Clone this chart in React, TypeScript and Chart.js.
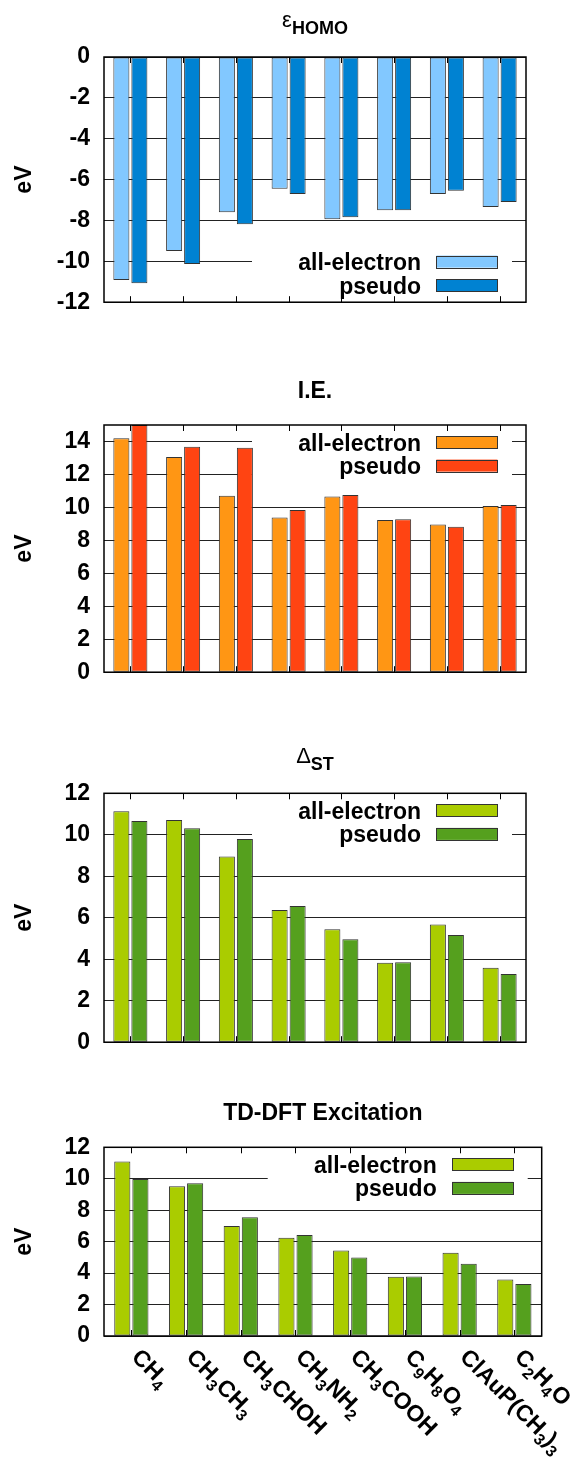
import React, { useEffect, useRef } from 'react';
import { Chart, registerables } from 'chart.js';

Chart.register(...registerables);

const FONT = '"Liberation Sans", Arial, Helvetica, sans-serif';

// Category labels ("_x" marks a one-character subscript)
const categories = ['CH_4', 'CH_3CH_3', 'CH_3CHOH', 'CH_3NH_2', 'CH_3COOH', 'C_9H_8O_4', 'ClAuP(CH_3)_3', 'C_2H_4O'];
const seriesNames = ['all-electron', 'pseudo'];

// Panel 1: HOMO eigenvalue (eV)
const homoAllElectron = [-10.91, -9.49, -7.6, -6.45, -7.94, -7.5, -6.7, -7.34];
const homoPseudo = [-11.07, -10.13, -8.19, -6.7, -7.84, -7.5, -6.54, -7.1];
// Panel 2: ionisation energy (eV)
const ieAllElectron = [14.2, 13.06, 10.7, 9.38, 10.66, 9.24, 8.96, 10.08];
const iePseudo = [15.0, 13.68, 13.62, 9.84, 10.76, 9.28, 8.82, 10.14];
// Panel 3: singlet-triplet gap (eV)
const stAllElectron = [11.14, 10.71, 8.95, 6.37, 5.44, 3.83, 5.68, 3.59];
const stPseudo = [10.66, 10.32, 9.8, 6.57, 4.96, 3.86, 5.17, 3.29];
// Panel 4: TD-DFT excitation (eV)
const tdAllElectron = [11.09, 9.52, 7.0, 6.25, 5.43, 3.77, 5.3, 3.6];
const tdPseudo = [9.99, 9.71, 7.55, 6.42, 5.0, 3.79, 4.6, 3.31];

// Axis ranges / tick steps
const homoAxis = { min: -12, max: 0, step: 2 };
const ieAxis = { min: 0, max: 15, step: 2 };
const stAxis = { min: 0, max: 12, step: 2 };
const tdAxis = { min: 0, max: 12, step: 2 };

// Titles: [main, subscript]
const homoTitle = ['ε', 'HOMO'];
const ieTitle = ['I.E.', ''];
const stTitle = ['Δ', 'ST'];
const tdTitle = ['TD-DFT Excitation', ''];

const blueColors = ['#82c8ff', '#0082d2'];
const orangeColors = ['#ff9614', '#ff4412'];
const greenColors = ['#aacc00', '#55a01e'];

function parseSub(s: string) {
  const segs: { t: string; sub: boolean }[] = [];
  let buf = '';
  let i = 0;
  while (i < s.length) {
    if (s[i] === '_') {
      if (buf) segs.push({ t: buf, sub: false });
      buf = '';
      segs.push({ t: s[i + 1], sub: true });
      i += 2;
    } else {
      buf += s[i];
      i++;
    }
  }
  if (buf) segs.push({ t: buf, sub: false });
  return segs;
}

const decoPlugin = {
  id: 'deco',
  beforeDatasetsDraw(chart: any, _args: any, opts: any) {
    const { ctx, chartArea: ca } = chart;
    const R = ca.right;
    const rowGap = 23.6;
    const row0 = opts.legendPos === 'top' ? ca.top + 17 : ca.bottom - 17 - rowGap;
    ctx.save();
    ctx.fillStyle = '#ffffff';
    ctx.fillRect(R - 274, row0 - 12.5, 260, rowGap + 25);
    chart.data.datasets.forEach((ds: any, i: number) => {
      const y = row0 + i * rowGap;
      ctx.font = `bold 23px ${FONT}`;
      ctx.fillStyle = '#000';
      ctx.textAlign = 'right';
      ctx.textBaseline = 'alphabetic';
      ctx.fillText(ds.label, R - 105, y + 8.5);
      ctx.fillStyle = ds.backgroundColor;
      ctx.fillRect(R - 89.6, y - 6, 61, 12);
      ctx.strokeStyle = '#333';
      ctx.lineWidth = 1;
      ctx.strokeRect(Math.round(R - 89.6) + 0.5, Math.round(y - 6) + 0.5, 61, 12);
    });
    ctx.restore();
  },
  afterDatasetsDraw(chart: any, _args: any, opts: any) {
    const { ctx, chartArea: ca } = chart;
    const xs = chart.scales.x;
    ctx.save();
    ctx.strokeStyle = '#000';
    ctx.lineWidth = 1;
    ctx.beginPath();
    for (let i = 0; i < chart.data.labels.length; i++) {
      const px = Math.round(xs.getPixelForValue(i)) + 0.5;
      ctx.moveTo(px, ca.bottom);
      ctx.lineTo(px, ca.bottom - 6);
      ctx.moveTo(px, ca.top);
      ctx.lineTo(px, ca.top + 6);
    }
    ctx.stroke();
    ctx.lineWidth = 1.5;
    ctx.strokeRect(ca.left, ca.top, ca.right - ca.left, ca.bottom - ca.top);

    // title
    const [main, sub] = opts.title;
    const cx = (ca.left + ca.right) / 2;
    ctx.fillStyle = '#000';
    ctx.textAlign = 'left';
    ctx.textBaseline = 'alphabetic';
    if (sub) {
      const mainFont = `normal 22px ${FONT}`;
      const subFont = `bold 18px ${FONT}`;
      ctx.font = mainFont;
      const w1 = ctx.measureText(main).width;
      ctx.font = subFont;
      const w2 = ctx.measureText(sub).width;
      const x0 = cx - (w1 + w2) / 2;
      ctx.font = mainFont;
      ctx.fillText(main, x0, ca.top - 30);
      ctx.font = subFont;
      ctx.fillText(sub, x0 + w1, ca.top - 23);
    } else {
      ctx.font = `bold 23px ${FONT}`;
      ctx.textAlign = 'center';
      ctx.fillText(main, cx, ca.top - 27);
    }

    // rotated category labels
    if (opts.showLabels) {
      chart.data.labels.forEach((lab: string, i: number) => {
        const px = xs.getPixelForValue(i) + 5;
        const py = ca.bottom + 16.5;
        ctx.save();
        ctx.translate(px, py);
        ctx.rotate(Math.PI / 4);
        ctx.textAlign = 'left';
        let x = 0;
        parseSub(lab).forEach((seg) => {
          ctx.font = seg.sub ? `bold 16px ${FONT}` : `bold 23px ${FONT}`;
          ctx.fillText(seg.t, x, seg.sub ? 14 : 8.3);
          x += ctx.measureText(seg.t).width;
        });
        ctx.restore();
      });
    }
    ctx.restore();
  },
};

type PanelProps = {
  top: number;
  height: number;
  plotTop: number;
  plotRight: number;
  plotBottom: number;
  axis: { min: number; max: number; step: number };
  a: number[];
  b: number[];
  colors: string[];
  title: string[];
  legendPos: 'top' | 'bottom';
  showLabels: boolean;
  catPct: number;
};

function Panel(p: PanelProps) {
  const ref = useRef<HTMLCanvasElement>(null);
  useEffect(() => {
    const canvas = ref.current!;
    const chart = new Chart(canvas, {
      type: 'bar',
      data: {
        labels: categories,
        datasets: [
          { label: seriesNames[0], data: p.a, backgroundColor: p.colors[0], borderColor: '#333', borderWidth: 1, borderSkipped: false, barPercentage: 0.89, categoryPercentage: p.catPct },
          { label: seriesNames[1], data: p.b, backgroundColor: p.colors[1], borderColor: '#333', borderWidth: 1, borderSkipped: false, barPercentage: 0.89, categoryPercentage: p.catPct },
        ],
      },
      options: {
        animation: false,
        responsive: false,
        devicePixelRatio: 1,
        layout: {
          padding: {
            left: 0,
            top: p.plotTop - p.top,
            right: 577 - p.plotRight,
            bottom: p.top + p.height - p.plotBottom,
          },
        },
        plugins: {
          legend: { display: false },
          tooltip: { enabled: false },
          title: { display: false },
          deco: { title: p.title, legendPos: p.legendPos, showLabels: p.showLabels },
        } as any,
        scales: {
          x: { type: 'category', display: false },
          y: {
            min: p.axis.min,
            max: p.axis.max,
            afterFit: (s: any) => { s.width = 104; },
            ticks: {
              stepSize: p.axis.step,
              includeBounds: false,
              color: '#000',
              padding: 14,
              font: { family: FONT, size: 23, weight: 'bold' },
            },
            grid: { color: '#222', lineWidth: 1, drawTicks: false },
            border: { display: false },
            title: {
              display: true,
              text: 'eV',
              color: '#000',
              font: { family: FONT, size: 23, weight: 'bold' },
              padding: { top: 11, bottom: 0 },
            },
          },
        },
      },
      plugins: [decoPlugin as any],
    });
    return () => chart.destroy();
  }, []);
  return (
    <canvas
      ref={ref}
      width={577}
      height={p.height}
      style={{ position: 'absolute', left: 0, top: p.top, width: 577, height: p.height, display: 'block' }}
    />
  );
}

export default function App() {
  return (
    <div style={{ position: 'absolute', left: 0, top: 0, width: 577, height: 1459, background: '#fff', overflow: 'hidden' }}>
      <Panel top={0} height={330} plotTop={57} plotBottom={307} plotRight={526} axis={homoAxis} a={homoAllElectron} b={homoPseudo} colors={blueColors} title={homoTitle} legendPos="bottom" showLabels={false} catPct={0.683} />
      <Panel top={370} height={330} plotTop={425} plotBottom={675.3} plotRight={526} axis={ieAxis} a={ieAllElectron} b={iePseudo} colors={orangeColors} title={ieTitle} legendPos="top" showLabels={false} catPct={0.683} />
      <Panel top={735} height={335} plotTop={793.3} plotBottom={1044} plotRight={526} axis={stAxis} a={stAllElectron} b={stPseudo} colors={greenColors} title={stTitle} legendPos="top" showLabels={false} catPct={0.683} />
      <Panel top={1085} height={374} plotTop={1147.3} plotBottom={1336} plotRight={541.7} axis={tdAxis} a={tdAllElectron} b={tdPseudo} colors={greenColors} title={tdTitle} legendPos="top" showLabels={true} catPct={0.662} />
    </div>
  );
}
